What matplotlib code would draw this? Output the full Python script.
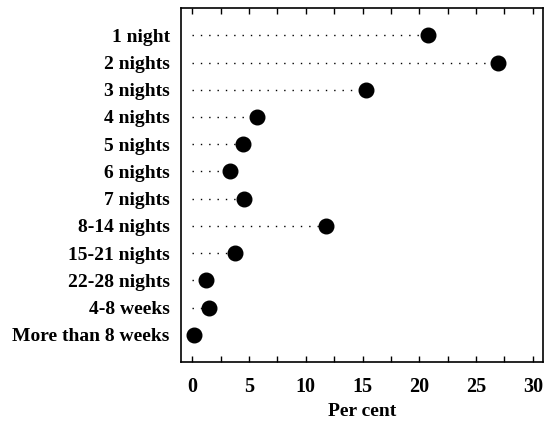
import matplotlib
matplotlib.use("Agg")
import matplotlib.pyplot as plt
from matplotlib.ticker import MultipleLocator

categories = ["1 night", "2 nights", "3 nights", "4 nights", "5 nights",
              "6 nights", "7 nights", "8-14 nights", "15-21 nights",
              "22-28 nights", "4-8 weeks", "More than 8 weeks"]
percent = [20.8, 26.9, 15.3, 5.7, 4.5, 3.3, 4.6, 11.8, 3.8, 1.2, 1.5, 0.2]
xticks = [0, 5, 10, 15, 20, 25, 30]

plt.rcParams["font.family"] = ["Liberation Serif", "DejaVu Serif"]
plt.rcParams["font.weight"] = "bold"

fig = plt.figure(figsize=(5.48, 4.24), dpi=100)
ax = fig.add_axes([0.330, 0.146, 0.661, 0.835])

ypos = list(range(1, len(categories) + 1))
for y, v in zip(ypos, percent):
    ax.plot([0, v], [y, y], linestyle=(0, (1, 5)), color="black", linewidth=1.0)
ax.plot(percent, ypos, "o", color="black", markersize=10.5, zorder=3)

ax.set_ylim(13, 0)
ax.set_xlim(-1.0, 30.9)
ax.set_yticks(ypos)
ax.set_yticklabels(categories, fontsize=14, fontweight="bold")
ax.set_xticks(xticks)
ax.set_xticklabels([str(t) for t in xticks], fontsize=14.5, fontweight="bold")
ax.xaxis.set_minor_locator(MultipleLocator(2.5))
ax.tick_params(axis="x", which="both", direction="in", top=True, bottom=True,
               length=4, width=1, pad=11)
ax.tick_params(axis="y", which="both", length=0, pad=8)
ax.set_xlabel("Per cent", fontsize=14, fontweight="bold", labelpad=4)
for s in ax.spines.values():
    s.set_linewidth(1.2)

fig.savefig("out.png", dpi=100)
